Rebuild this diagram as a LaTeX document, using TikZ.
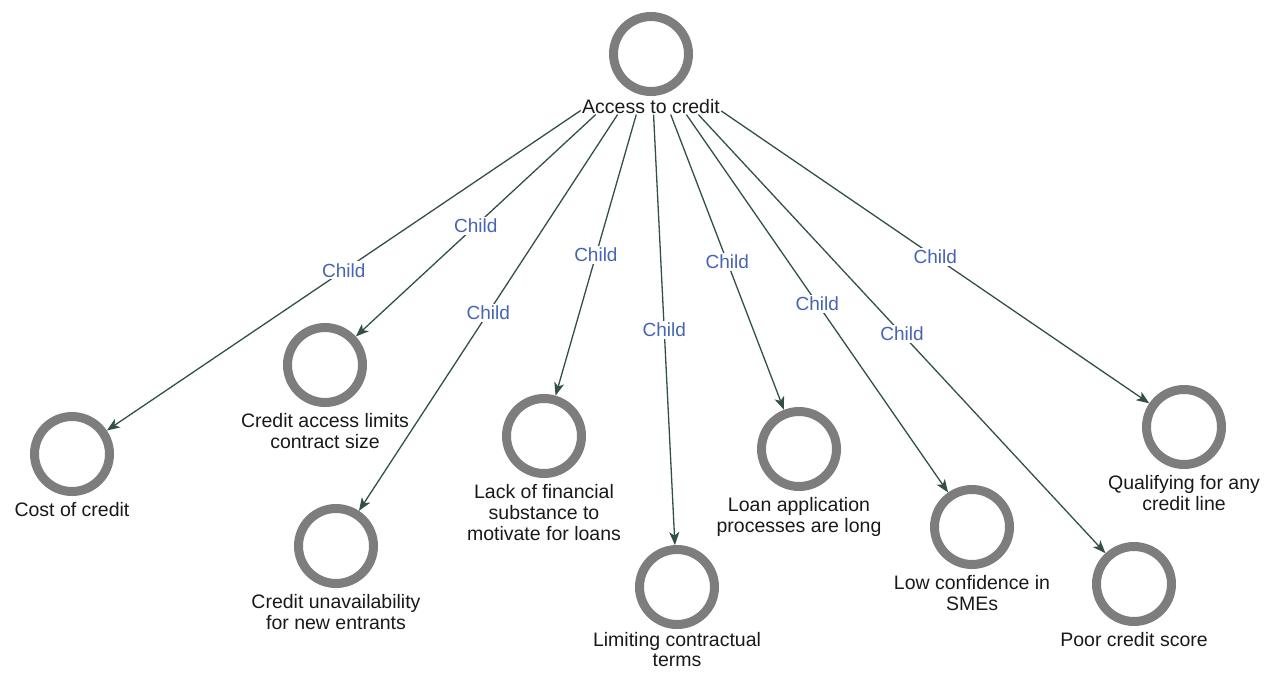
\documentclass[tikz,border=0pt]{standalone}
\usepackage{fontspec}
\setmainfont{Liberation Sans}
\usetikzlibrary{arrows.meta,fit}
\definecolor{ringgray}{RGB}{125,125,125}
\definecolor{edgecol}{RGB}{50,80,72}
\definecolor{childblue}{RGB}{70,100,180}
\definecolor{txtcol}{RGB}{25,25,25}
\begin{document}
\begin{tikzpicture}[x=1pt,y=-1pt,
  ring/.style={circle,draw=ringgray,line width=9pt,minimum size=75pt,inner sep=0pt,fill=white},
  lab/.style={text=txtcol,font=\fontsize{19.5}{21}\selectfont,align=center,inner sep=0pt},
  clab/.style={lab,anchor=north,yshift=-6pt},
  edge/.style={draw=edgecol,line width=1.3pt,-{Stealth[length=13pt,width=10pt,inset=3.5pt]}},
  childlab/.style={text=childblue,font=\fontsize{19}{21}\selectfont,fill=white,inner sep=2pt,midway}
]
\useasboundingbox (0,0) rectangle (1274,673);
% root
\node[ring] (r) at (651,54) {};
\node[lab,anchor=base,inner sep=1pt] (rl) at (651,113) {Access to credit};
\node[fit=(r)(rl),inner sep=0pt] (root) {};
% children
\node[ring] (c1) at (72,454) {};
\node[clab] (l1) at (c1.south) {Cost of credit};
\node[ring] (c2) at (325,365) {};
\node[clab] (l2) at (c2.south) {Credit access limits\\contract size};
\node[ring] (c3) at (336,546) {};
\node[clab] (l3) at (c3.south) {Credit unavailability\\for new entrants};
\node[ring] (c4) at (544,436) {};
\node[clab] (l4) at (c4.south) {Lack of financial\\substance to\\motivate for loans};
\node[ring] (c5) at (677,587) {};
\node[clab,yshift=3pt,font=\fontsize{19.5}{20}\selectfont] (l5) at (c5.south) {Limiting contractual\\terms};
\node[ring] (c6) at (799,449) {};
\node[clab] (l6) at (c6.south) {Loan application\\processes are long};
\node[ring] (c7) at (972,527) {};
\node[clab] (l7) at (c7.south) {Low confidence in\\SMEs};
\node[ring] (c8) at (1134,584) {};
\node[clab] (l8) at (c8.south) {Poor credit score};
\node[ring] (c9) at (1184,427) {};
\node[clab] (l9) at (c9.south) {Qualifying for any\\credit line};
% edges
\foreach \c in {c1,c2,c3,c4,c5,c6,c7,c8,c9}{
  \draw[edge] (root) -- node[childlab]{Child} (\c);
}
\end{tikzpicture}
\end{document}
